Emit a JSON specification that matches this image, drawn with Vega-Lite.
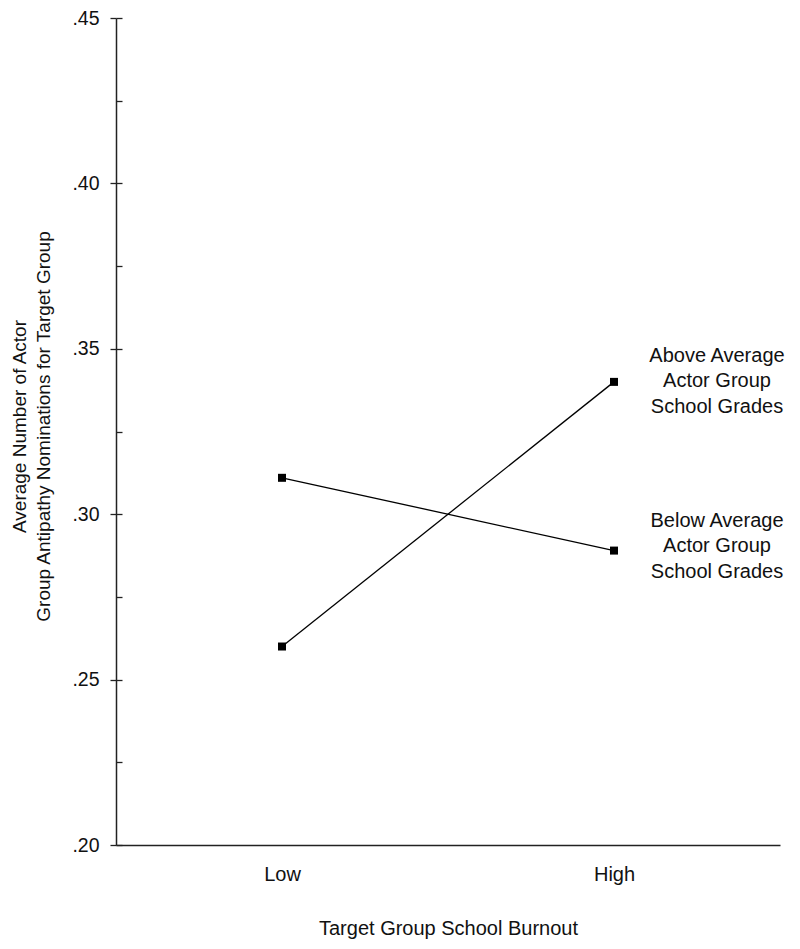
{
  "$schema": "https://vega.github.io/schema/vega-lite/v6.json",
  "autosize": "none",
  "width": 664,
  "height": 827,
  "padding": {"left": 116, "top": 18, "right": 20, "bottom": 104},
  "background": "white",
  "config": {
    "view": {"stroke": null},
    "font": "Liberation Sans",
    "axis": {"labelFont": "Liberation Sans", "titleFont": "Liberation Sans", "labelColor": "#111", "titleColor": "#111", "titleFontWeight": "normal", "domainColor": "#222", "tickColor": "#222", "grid": false}
  },
  "data": {
    "values": [
      {"burnout": "Low", "group": "Above", "value": 0.260, "label": "Above Average\nActor Group\nSchool Grades"},
      {"burnout": "High", "group": "Above", "value": 0.340, "label": "Above Average\nActor Group\nSchool Grades"},
      {"burnout": "Low", "group": "Below", "value": 0.311, "label": "Below Average\nActor Group\nSchool Grades"},
      {"burnout": "High", "group": "Below", "value": 0.289, "label": "Below Average\nActor Group\nSchool Grades"}
    ]
  },
  "encoding": {
    "x": {
      "field": "burnout", "type": "ordinal", "sort": ["Low", "High"],
      "scale": {"type": "point", "padding": 0.5},
      "axis": {"title": "Target Group School Burnout", "labelAngle": 0, "ticks": false, "tickSize": 0, "labelFontSize": 20, "titleFontSize": 20, "labelPadding": 19, "titlePadding": 34, "domainWidth": 1.5}
    }
  },
  "layer": [
    {
      "mark": {"type": "line", "color": "black", "strokeWidth": 1.3},
      "encoding": {
        "detail": {"field": "group"},
        "y": {
          "field": "value", "type": "quantitative",
          "scale": {"domain": [0.2, 0.45], "nice": false, "zero": false},
          "axis": {
            "orient": "left",
            "title": ["Average Number of Actor", "Group Antipathy Nominations for Target Group"],
            "values": [0.2, 0.225, 0.25, 0.275, 0.3, 0.325, 0.35, 0.375, 0.4, 0.425, 0.45],
            "labelExpr": "round(datum.value*1000) % 50 == 0 ? replace(format(datum.value, '.2f'), '0.', '.') : ''",
            "tickSize": {"condition": {"test": "round(datum.value*1000) % 50 == 0", "value": 6}, "value": -6},
            "labelFontSize": 19.5, "titleFontSize": 19, "labelPadding": 11, "titlePadding": 18, "domainWidth": 1.5, "tickWidth": 1.3,
            "titleLineHeight": 24, "titleY": 408
          }
        }
      }
    },
    {
      "mark": {"type": "point", "shape": "square", "filled": true, "color": "black", "size": 64, "opacity": 1},
      "encoding": {
        "y": {
          "field": "value", "type": "quantitative",
          "axis": {
            "orient": "left", "title": null, "labels": false, "domain": false,
            "values": [0.2, 0.25, 0.3, 0.35, 0.4, 0.45],
            "tickSize": -6, "tickWidth": 1.3
          }
        }
      }
    },
    {
      "transform": [{"filter": "datum.burnout == 'High' && datum.group == 'Above'"}],
      "mark": {"type": "text", "lineBreak": "\n", "fontSize": 20, "lineHeight": 25.5, "align": "center", "baseline": "middle", "dx": 103, "dy": -26, "color": "#111"},
      "encoding": {
        "y": {"field": "value", "type": "quantitative", "axis": null},
        "text": {"field": "label"}
      }
    },
    {
      "transform": [{"filter": "datum.burnout == 'High' && datum.group == 'Below'"}],
      "mark": {"type": "text", "lineBreak": "\n", "fontSize": 20, "lineHeight": 25.5, "align": "center", "baseline": "middle", "dx": 103, "dy": -30, "color": "#111"},
      "encoding": {
        "y": {"field": "value", "type": "quantitative", "axis": null},
        "text": {"field": "label"}
      }
    }
  ],
  "resolve": {"axis": {"y": "independent"}}
}
